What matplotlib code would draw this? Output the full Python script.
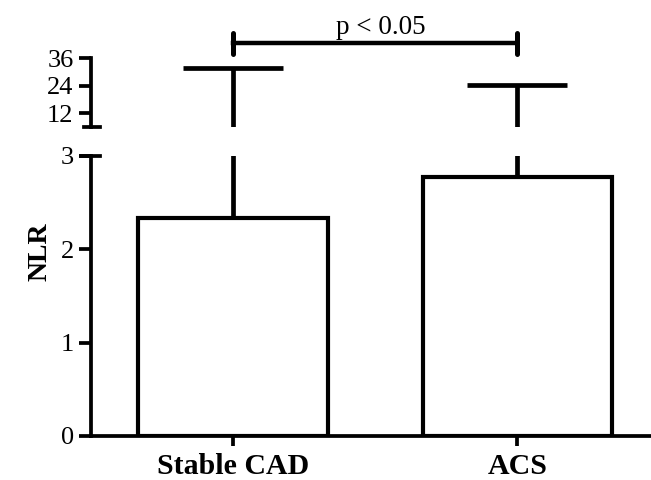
import matplotlib
matplotlib.use("Agg")
import matplotlib.pyplot as plt

# ---- Data ----
groups = ["Stable CAD", "ACS"]
means = [2.34, 2.77]
err_top = [31.6, 24.2]
low_ticks = [0, 1, 2, 3]
high_ticks = [12, 24, 36]

plt.rcParams["font.family"] = ["Liberation Serif", "DejaVu Serif"]
plt.rcParams["font.size"] = 19

x = list(range(len(groups)))
yerr = [[0] * len(means), [t - m for t, m in zip(err_top, means)]]

fig = plt.figure(figsize=(6.51, 4.8), dpi=100)
ax_lo = fig.add_axes([0.1398, 0.0917, 0.8602, 0.5833])
ax_hi = fig.add_axes([0.1398, 0.7354, 0.8602, 0.14375])

lw = 3.0
for ax in (ax_lo, ax_hi):
    ax.errorbar(x, means, yerr=yerr, fmt="none", ecolor="black",
                elinewidth=3.4, capsize=36, capthick=3.4, zorder=1)
    ax.set_xlim(-0.5, 1.47)
    for s in ("top", "right"):
        ax.spines[s].set_visible(False)
    ax.spines["left"].set_linewidth(2.7)
    ax.spines["bottom"].set_linewidth(2.7)
    ax.tick_params(axis="y", length=8.5, width=2.7, pad=4)

ax_lo.bar(x, means, width=0.667, color="white", edgecolor="black",
          linewidth=lw, zorder=2)
ax_lo.set_ylim(0, 3)
ax_lo.set_yticks(low_ticks)
ax_lo.set_xticks(x)
ax_lo.set_xticklabels(groups, fontweight="bold", fontsize=21.5)
ax_lo.tick_params(axis="x", length=7, width=2.7, pad=5)

ax_hi.set_ylim(6, 36)
ax_hi.set_yticks(high_ticks)
ax_hi.spines["bottom"].set_visible(False)
ax_hi.set_xticks([])

# break marks
ax_lo.plot([-0.018, 0.016], [1, 1], transform=ax_lo.transAxes,
           color="black", lw=2.7, clip_on=False)
ax_hi.plot([-0.012, 0.016], [0, 0], transform=ax_hi.transAxes,
           color="black", lw=2.7, clip_on=False)

# significance bracket
ax_hi.plot([x[0], x[1]], [42.5, 42.5], color="black", lw=3.2, clip_on=False)
for xi in x:
    ax_hi.plot([xi, xi], [37.6, 47.0], color="black", lw=3.6,
               solid_capstyle="round", clip_on=False)
ax_hi.text(0.5 * (x[0] + x[1]) + 0.02, 44.0, "p < 0.05", ha="center",
           va="bottom", fontsize=19.5, clip_on=False)

fig.text(0.062, 1 - 252 / 480, "NLR", rotation=90, ha="center", va="center",
         fontsize=20, fontweight="bold")

fig.savefig("out.png", dpi=100)
